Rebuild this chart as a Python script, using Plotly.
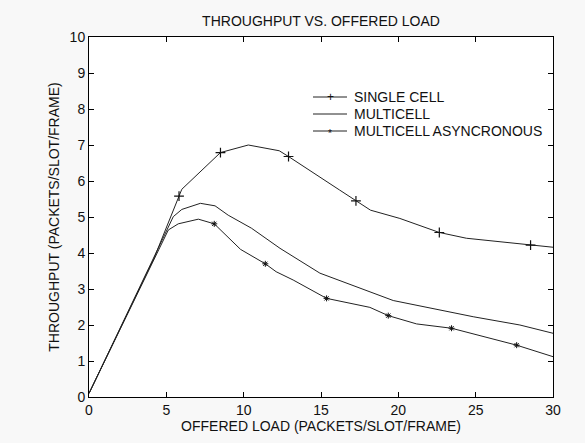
import plotly.graph_objects as go

# ---- data ----
single_x = [0, 4.2, 5.82, 6.0, 8.5, 10.3, 12.3, 12.9, 16.2, 17.26, 18.2, 20.1, 22.65, 24.4, 28.55, 30]
single_y = [0.1, 3.85, 5.58, 5.77, 6.79, 7.0, 6.84, 6.68, 5.75, 5.45, 5.19, 4.96, 4.57, 4.41, 4.22, 4.16]
single_mx = [5.82, 8.5, 12.9, 17.26, 22.65, 28.55]
single_my = [5.58, 6.79, 6.68, 5.45, 4.57, 4.22]

multi_x = [0, 4.2, 5.45, 6.0, 7.2, 8.15, 9.0, 10.5, 11.4, 12.35, 14.93, 17.0, 19.67, 24.84, 27.86, 30]
multi_y = [0.1, 3.85, 5.01, 5.21, 5.38, 5.31, 5.05, 4.69, 4.41, 4.13, 3.44, 3.1, 2.68, 2.23, 2.0, 1.77]

async_x = [0, 4.2, 5.13, 5.77, 7.07, 8.1, 9.8, 11.4, 12.1, 13.2, 15.36, 18.16, 19.35, 21.18, 23.44, 27.65, 30]
async_y = [0.1, 3.85, 4.64, 4.81, 4.94, 4.81, 4.1, 3.7, 3.48, 3.25, 2.74, 2.49, 2.26, 2.03, 1.91, 1.44, 1.12]
async_mx = [8.1, 11.4, 15.36, 19.35, 23.44, 27.65]
async_my = [4.81, 3.7, 2.74, 2.26, 1.91, 1.44]

names = ["SINGLE CELL", "MULTICELL", "MULTICELL ASYNCRONOUS"]
legend_marks = ["+", "", "*"]
x_ticks = [0, 5, 10, 15, 20, 25, 30]
y_ticks = list(range(0, 11))

FONT = "Liberation Sans, Arial, sans-serif"
LC = "#222222"
MC = "#111111"
FS = 14

fig = go.Figure()
for xs, ys in [(single_x, single_y), (multi_x, multi_y), (async_x, async_y)]:
    fig.add_trace(go.Scatter(x=xs, y=ys, mode="lines", line=dict(color=LC, width=1),
                             showlegend=False, hoverinfo="skip"))
fig.add_trace(go.Scatter(x=single_mx, y=single_my, mode="markers",
                         marker=dict(symbol="cross-thin-open", size=7, color=MC,
                                     line=dict(color=MC, width=1.2)),
                         showlegend=False))
fig.add_trace(go.Scatter(x=async_mx, y=async_my, mode="markers",
                         marker=dict(symbol="asterisk-open", size=5, color=MC,
                                     line=dict(color=MC, width=1)),
                         showlegend=False))

# legend drawn in paper coordinates (MATLAB-style, no box)
L, R, T, B = 89, 553, 37, 397
def px(xp):
    return (xp - L) / (R - L)
def py(yp):
    return (B - yp) / (B - T)

shapes = []
annotations = []
for i, (nm, mk) in enumerate(zip(names, legend_marks)):
    yy = 97 + 17 * i
    shapes.append(dict(type="line", xref="paper", yref="paper",
                       x0=px(313), x1=px(347), y0=py(yy), y1=py(yy),
                       line=dict(color=LC, width=1)))
    annotations.append(dict(xref="paper", yref="paper", x=px(352), y=py(yy),
                            xanchor="left", yanchor="middle", showarrow=False, text=nm,
                            font=dict(family=FONT, size=FS, color="#111")))
    if mk:
        annotations.append(dict(xref="paper", yref="paper", x=px(330), y=py(yy + (0 if mk == "+" else 2)),
                                xanchor="center", yanchor="middle", showarrow=False, text=mk,
                                font=dict(family=FONT, size=12 if mk == "+" else 10, color="#111"),
                                bgcolor="rgba(255,255,255,0)"))

axis_common = dict(showline=True, linecolor="#000", linewidth=1, mirror="ticks",
                   ticks="inside", ticklen=5, tickcolor="#000", showgrid=False, zeroline=False,
                   tickfont=dict(family=FONT, size=FS, color="#111"))

fig.update_layout(
    width=585, height=443,
    margin=dict(l=L, r=585 - R, t=T, b=443 - B),
    paper_bgcolor="#f8f8f8", plot_bgcolor="#ffffff",
    title=dict(text="THROUGHPUT VS. OFFERED LOAD", x=(L + R) / 2 / 585, xanchor="center",
               y=1 - 21 / 443, yanchor="middle", font=dict(family=FONT, size=FS, color="#111")),
    xaxis=dict(range=[0, 30], tickvals=x_ticks,
               title=dict(text="OFFERED LOAD (PACKETS/SLOT/FRAME)", standoff=3,
                          font=dict(family=FONT, size=FS, color="#111")),
               **axis_common),
    yaxis=dict(range=[0, 10], tickvals=y_ticks,
               title=dict(text="THROUGHPUT (PACKETS/SLOT/FRAME)", standoff=6,
                          font=dict(family=FONT, size=FS, color="#111")),
               **axis_common),
    shapes=shapes,
    annotations=annotations,
    showlegend=False,
)

fig.write_html("out.html")
